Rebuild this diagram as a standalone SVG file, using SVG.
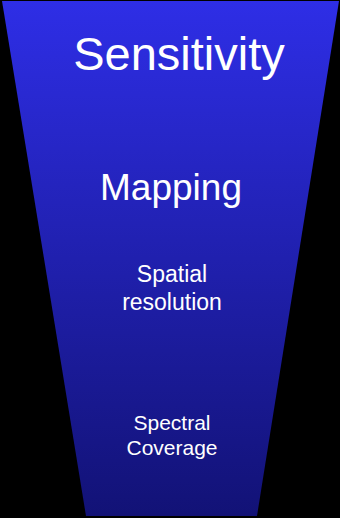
<svg xmlns="http://www.w3.org/2000/svg" width="340" height="518" viewBox="0 0 340 518">
<style>
text{font-family:"Liberation Sans",Arial,sans-serif;fill:#ffffff;text-anchor:middle}
</style>
<defs>
<linearGradient id="g" x1="0" y1="0" x2="0" y2="1">
<stop offset="0" stop-color="#2E2EE6"/>
<stop offset="1" stop-color="#121276"/>
</linearGradient>
</defs>
<rect width="340" height="518" fill="#000000"/>
<g id="funnel">
<polygon points="2,1 339,1 257,516 86,516" fill="url(#g)"/>
</g>
<g id="connectors"/>
<g id="sensitivity"><text x="179" y="70" font-size="47">Sensitivity</text></g>
<g id="mapping"><text x="171" y="200" font-size="37">Mapping</text></g>
<g id="spatial"><text x="172" y="282" font-size="23">Spatial</text><text x="172" y="310" font-size="23">resolution</text></g>
<g id="spectral"><text x="172" y="430" font-size="21">Spectral</text><text x="172" y="455" font-size="21">Coverage</text></g>
</svg>
